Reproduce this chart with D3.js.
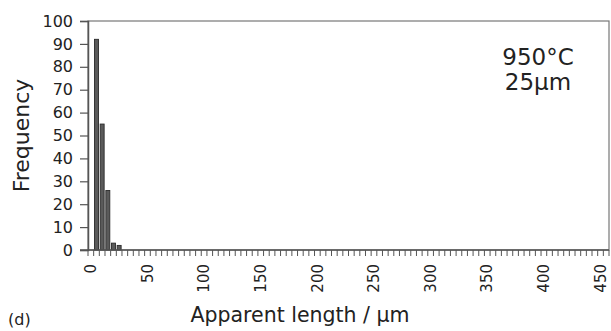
<!DOCTYPE html>
<html>
<head>
<meta charset="utf-8">
<script src="https://cdn.jsdelivr.net/npm/d3@7"></script>
<style>
  body { margin: 0; background: #fff; }
  text { font-family: "DejaVu Sans", Verdana, sans-serif; fill: #222; }
</style>
</head>
<body>
<div id="chart"></div>
<script>
var svgWidth = 611;
var svgHeight = 331;

var margin = { top: 21, right: 2, bottom: 81, left: 88 };
var chartWidth = svgWidth - margin.left - margin.right;
var chartHeight = svgHeight - margin.top - margin.bottom;

// bins of 5 um, 0 .. 455
var binStarts = d3.range(0, 460, 5);
var binCounts = [0, 92, 55, 26, 3, 2];
var yTicks = [0, 10, 20, 30, 40, 50, 60, 70, 80, 90, 100];
var xLabels = [0, 50, 100, 150, 200, 250, 300, 350, 400, 450];

var data = binStarts.map(function(b, i) {
  return { bin: b, count: binCounts[i] || 0 };
});

var svg = d3.select("#chart")
  .append("svg")
  .attr("width", svgWidth)
  .attr("height", svgHeight);

var chartGroup = svg.append("g")
  .attr("transform", `translate(${margin.left}, ${margin.top})`);

var xScale = d3.scaleBand()
  .domain(binStarts)
  .range([0, chartWidth])
  .paddingInner(0.3)
  .paddingOuter(0.15);

var xBand = d3.scaleBand()
  .domain(binStarts)
  .range([0, chartWidth]);

var yScale = d3.scaleLinear()
  .domain([0, 100])
  .range([chartHeight, 0]);

// frame
chartGroup.append("rect")
  .attr("x", 0)
  .attr("y", 0)
  .attr("width", chartWidth)
  .attr("height", chartHeight)
  .attr("fill", "none")
  .attr("stroke", "#777")
  .attr("stroke-width", 1.2);

// bars
chartGroup.selectAll(".bar")
  .data(data.filter(d => d.count > 0))
  .enter()
  .append("rect")
  .attr("class", "bar")
  .attr("x", d => xScale(d.bin))
  .attr("y", d => yScale(d.count))
  .attr("width", xScale.bandwidth())
  .attr("height", d => chartHeight - yScale(d.count))
  .attr("fill", "#5a5a5a")
  .attr("stroke", "#2a2a2a")
  .attr("stroke-width", 0.9);

// y axis
var leftAxis = d3.axisLeft(yScale)
  .tickValues(yTicks)
  .tickSize(8)
  .tickPadding(7);

var yAxis = chartGroup.append("g").call(leftAxis);
yAxis.select(".domain").attr("stroke", "#555").attr("stroke-width", 1.5);
yAxis.selectAll(".tick line").attr("stroke", "#555").attr("stroke-width", 1.2);
yAxis.selectAll(".tick text")
  .attr("font-size", "16px")
  .attr("fill", "#222");

// x axis: minor ticks at bin edges
var edges = d3.range(0, binStarts.length + 1);
var xAxis = chartGroup.append("g")
  .attr("transform", `translate(0, ${chartHeight})`);

xAxis.append("line")
  .attr("x1", -8)
  .attr("x2", chartWidth)
  .attr("y1", 0)
  .attr("y2", 0)
  .attr("stroke", "#555")
  .attr("stroke-width", 1.5);

xAxis.selectAll(".minor")
  .data(edges)
  .enter()
  .append("line")
  .attr("class", "minor")
  .attr("x1", i => i * xBand.step())
  .attr("x2", i => i * xBand.step())
  .attr("y1", 0)
  .attr("y2", 6)
  .attr("stroke", "#555")
  .attr("stroke-width", 1);

xAxis.selectAll(".xlabel")
  .data(xLabels)
  .enter()
  .append("text")
  .attr("class", "xlabel")
  .attr("transform", d => `translate(${xBand(d) + xBand.bandwidth() / 2}, 14) rotate(-90)`)
  .attr("text-anchor", "end")
  .attr("dy", "0.35em")
  .attr("font-size", "15px")
  .text(d => d);

// axis titles
svg.append("text")
  .attr("transform", `translate(29, ${margin.top + chartHeight / 2}) rotate(-90)`)
  .attr("text-anchor", "middle")
  .attr("font-size", "22px")
  .text("Frequency");

svg.append("text")
  .attr("x", 300)
  .attr("y", 322)
  .attr("text-anchor", "middle")
  .attr("font-size", "20.5px")
  .text("Apparent length / µm");

svg.append("text")
  .attr("x", 8)
  .attr("y", 325)
  .attr("font-size", "16px")
  .text("(d)");

// annotation
svg.append("text")
  .attr("x", 538)
  .attr("y", 65)
  .attr("text-anchor", "middle")
  .attr("font-size", "23px")
  .text("950°C");

svg.append("text")
  .attr("x", 538)
  .attr("y", 90)
  .attr("text-anchor", "middle")
  .attr("font-size", "23px")
  .text("25µm");
</script>
</body>
</html>
